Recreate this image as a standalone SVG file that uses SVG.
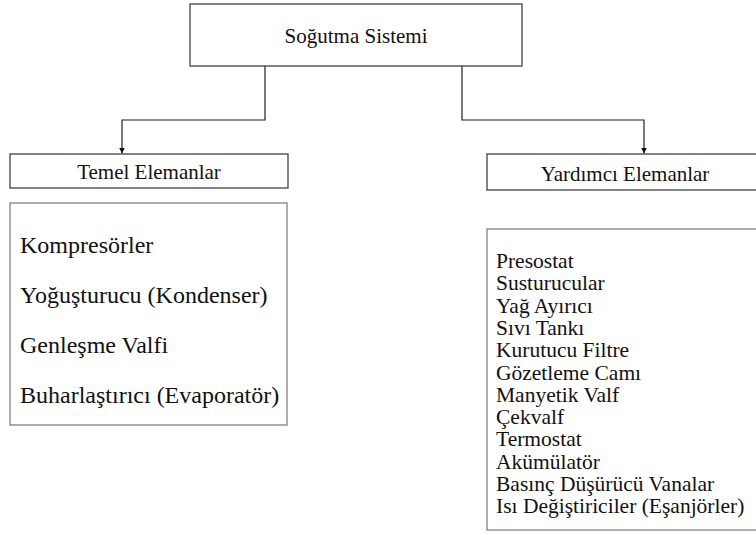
<svg xmlns="http://www.w3.org/2000/svg" width="756" height="535" viewBox="0 0 756 535">
<defs>
<style>
text{font-family:"Liberation Serif","Times New Roman",serif;font-size:21px;fill:#111}
.big{font-size:24px}
.sm{font-size:21.5px}
.hd{fill:#fff;stroke:#333;stroke-width:1.2}
.lst{fill:#fff;stroke:#777;stroke-width:1.2}
.c{fill:none;stroke:#222;stroke-width:1.2}
.m{text-anchor:middle}
</style>
<marker id="ah" viewBox="0 0 8 8" refX="8" refY="4" markerWidth="6" markerHeight="6" markerUnits="userSpaceOnUse" orient="auto">
<path d="M0,0 L8,4 L0,8 z" fill="#111"/>
</marker>
</defs>
<rect width="756" height="535" fill="#fff"/>
<g id="connectors">
<path class="c" d="M265,66 V120 H122 V153.5" marker-end="url(#ah)"/>
<path class="c" d="M462,66 V120 H644 V153.5" marker-end="url(#ah)"/>
</g>
<g id="root">
<rect class="hd" x="190" y="4" width="332" height="62"/>
<text class="m" x="356" y="43">Soğutma Sistemi</text>
</g>
<g id="temel">
<rect class="hd" x="10" y="154" width="278" height="34"/>
<text class="m" x="149" y="179">Temel Elemanlar</text>
</g>
<g id="temel-list">
<rect class="lst" x="10" y="203" width="277" height="222"/>
<text class="big" x="20" y="253">Kompresörler</text>
<text class="big" x="20" y="303">Yoğuşturucu (Kondenser)</text>
<text class="big" x="20" y="353">Genleşme Valfi</text>
<text class="big" x="20" y="403">Buharlaştırıcı (Evaporatör)</text>
</g>
<g id="yardimci">
<rect class="hd" x="487" y="154" width="280" height="36"/>
<text class="m" x="625" y="181">Yardımcı Elemanlar</text>
</g>
<g id="yardimci-list">
<rect class="lst" x="487" y="229" width="280" height="301"/>
<text class="sm" x="496" y="268">Presostat</text>
<text class="sm" x="496" y="290.3">Susturucular</text>
<text class="sm" x="496" y="312.6">Yağ Ayırıcı</text>
<text class="sm" x="496" y="334.9">Sıvı Tankı</text>
<text class="sm" x="496" y="357.2">Kurutucu Filtre</text>
<text class="sm" x="496" y="379.5">Gözetleme Camı</text>
<text class="sm" x="496" y="401.8">Manyetik Valf</text>
<text class="sm" x="496" y="424.1">Çekvalf</text>
<text class="sm" x="496" y="446.4">Termostat</text>
<text class="sm" x="496" y="468.7">Akümülatör</text>
<text class="sm" x="496" y="491">Basınç Düşürücü Vanalar</text>
<text class="sm" x="496" y="513.3">Isı Değiştiriciler (Eşanjörler)</text>
</g>
</svg>
